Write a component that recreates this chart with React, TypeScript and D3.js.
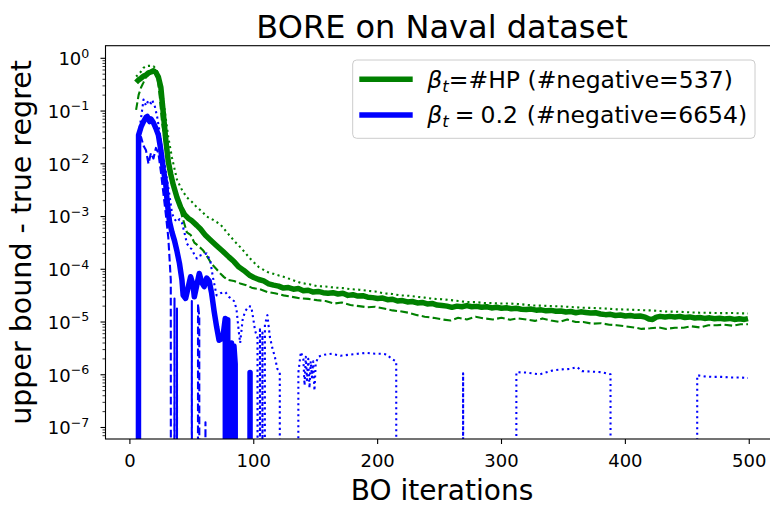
import React from "react";
import * as d3 from "d3";

// ---------- data (iteration, value); value <= 0 means non-positive (clipped on log axis) ----------
const greenMean: [number, number][] = [
  [5, 3.5e-1], [7, 3.9e-1], [9, 4.2e-1], [11, 4.6e-1], [13, 4.8e-1], [15, 5.3e-1], [17, 5.5e-1], [19, 5.8e-1],
  [21, 5.4e-1], [23, 4.4e-1], [25, 2.8e-1], [27, 8.9e-2], [29, 2.8e-2], [31, 1.1e-2], [33, 6.3e-3], [35, 4.0e-3],
  [38, 2.3e-3], [41, 1.5e-3], [44, 1.1e-3], [47, 9.3e-4], [50, 8.3e-4], [54, 6.8e-4], [57, 5.8e-4], [61, 4.4e-4],
  [65, 3.6e-4], [70, 2.8e-4], [75, 2.2e-4], [80, 1.7e-4], [84, 1.4e-4], [88, 1.1e-4], [92, 9.5e-5], [97, 7.6e-5],
  [100, 7.0e-5], [104, 6.4e-5], [108, 6.0e-5], [112, 5.3e-5], [116, 5.0e-5], [120, 4.8e-5], [124, 4.4e-5],
  [128, 4.5e-5], [132, 4.2e-5], [136, 4.3e-5], [140, 3.9e-5], [144, 4.0e-5], [148, 3.7e-5], [152, 3.8e-5],
  [156, 3.6e-5], [160, 3.5e-5], [164, 3.6e-5], [168, 3.4e-5], [172, 3.5e-5], [176, 3.2e-5], [180, 3.3e-5],
  [184, 3.1e-5], [188, 3.15e-5], [192, 2.95e-5], [196, 2.9e-5], [200, 2.8e-5], [204, 2.85e-5], [208, 2.65e-5],
  [212, 2.7e-5], [216, 2.5e-5], [220, 2.55e-5], [224, 2.4e-5], [228, 2.45e-5], [232, 2.3e-5], [236, 2.35e-5],
  [240, 2.2e-5], [244, 2.25e-5], [248, 2.1e-5], [252, 2.05e-5], [256, 2.0e-5], [260, 1.9e-5], [264, 2.0e-5],
  [268, 1.95e-5], [272, 2.05e-5], [276, 1.95e-5], [280, 1.98e-5], [284, 1.9e-5], [288, 1.95e-5], [292, 1.85e-5],
  [296, 1.9e-5], [300, 1.82e-5], [304, 1.86e-5], [308, 1.78e-5], [312, 1.82e-5], [316, 1.75e-5], [320, 1.72e-5],
  [324, 1.76e-5], [328, 1.68e-5], [332, 1.7e-5], [336, 1.63e-5], [340, 1.66e-5], [344, 1.6e-5], [348, 1.62e-5],
  [352, 1.55e-5], [356, 1.58e-5], [360, 1.5e-5], [364, 1.56e-5], [368, 1.52e-5], [372, 1.48e-5], [376, 1.5e-5],
  [380, 1.42e-5], [384, 1.38e-5], [388, 1.4e-5], [392, 1.33e-5], [396, 1.36e-5], [400, 1.3e-5], [404, 1.33e-5],
  [408, 1.28e-5], [412, 1.3e-5], [416, 1.24e-5], [419, 1.14e-5], [422, 1.12e-5], [425, 1.24e-5], [428, 1.28e-5],
  [432, 1.24e-5], [436, 1.28e-5], [440, 1.25e-5], [444, 1.28e-5], [448, 1.22e-5], [452, 1.25e-5], [456, 1.19e-5],
  [460, 1.22e-5], [464, 1.17e-5], [468, 1.2e-5], [472, 1.15e-5], [476, 1.18e-5], [480, 1.14e-5], [484, 1.17e-5],
  [488, 1.12e-5], [492, 1.15e-5], [496, 1.12e-5], [499, 1.16e-5],
];

const greenUpper: [number, number][] = [
  [5, 4.5e-1], [7, 5.0e-1], [9, 5.6e-1], [11, 6.6e-1], [13, 7.1e-1], [15, 7.2e-1], [17, 7.2e-1], [19, 7.1e-1],
  [21, 6.3e-1], [23, 5.0e-1], [25, 3.5e-1], [27, 1.6e-1], [29, 7.1e-2], [31, 3.2e-2], [34, 1.3e-2], [38, 5.0e-3],
  [42, 3.2e-3], [46, 2.3e-3], [50, 1.9e-3], [54, 1.5e-3], [58, 1.26e-3], [62, 1.0e-3], [67, 8.7e-4], [73, 7.1e-4],
  [79, 4.8e-4], [84, 3.5e-4], [90, 2.5e-4], [97, 1.6e-4], [104, 1.1e-4], [111, 8.9e-5], [118, 7.9e-5],
  [124, 7.2e-5], [131, 6.3e-5], [138, 5.5e-5], [145, 5.2e-5], [151, 4.8e-5], [158, 4.7e-5], [165, 4.5e-5],
  [172, 4.4e-5], [178, 4.2e-5], [185, 4.1e-5], [192, 3.9e-5], [198, 3.8e-5], [205, 3.5e-5], [212, 3.4e-5],
  [218, 3.2e-5], [225, 3.15e-5], [232, 3.0e-5], [238, 2.9e-5], [245, 2.75e-5], [252, 2.7e-5], [259, 2.6e-5],
  [265, 2.5e-5], [272, 2.4e-5], [279, 2.38e-5], [286, 2.3e-5], [293, 2.28e-5], [300, 2.24e-5], [306, 2.25e-5],
  [313, 2.2e-5], [320, 2.12e-5], [327, 2.05e-5], [333, 2.04e-5], [340, 2.0e-5], [347, 1.98e-5], [353, 1.95e-5],
  [360, 1.9e-5], [366, 1.86e-5], [373, 1.85e-5], [380, 1.82e-5], [387, 1.78e-5], [393, 1.74e-5], [400, 1.73e-5],
  [407, 1.7e-5], [413, 1.68e-5], [420, 1.66e-5], [427, 1.62e-5], [433, 1.58e-5], [440, 1.57e-5], [447, 1.55e-5],
  [453, 1.52e-5], [460, 1.5e-5], [467, 1.5e-5], [474, 1.48e-5], [480, 1.47e-5], [487, 1.48e-5], [493, 1.46e-5],
  [499, 1.45e-5],
];

const greenLower: [number, number][] = [
  [5, 1.05e-1], [7, 2.0e-1], [9, 2.8e-1], [11, 3.5e-1], [14, 5.0e-1], [17, 5.4e-1], [20, 5.6e-1], [22, 5.0e-1],
  [24, 2.0e-1], [26, 5.9e-2], [29, 2.0e-2], [33, 7.9e-3], [37, 2.8e-3], [41, 1.26e-3], [46, 5.0e-4], [49, 4.5e-4],
  [52, 3.2e-4], [55, 2.8e-4], [59, 2.3e-4], [63, 1.66e-4], [66, 1.26e-4], [70, 1.0e-4], [73, 8.3e-5], [76, 7.1e-5],
  [79, 6.3e-5], [84, 6.0e-5], [89, 5.4e-5], [94, 5.0e-5], [99, 4.4e-5], [105, 4.2e-5], [111, 3.7e-5],
  [117, 3.5e-5], [124, 3.2e-5], [131, 3.0e-5], [138, 2.8e-5], [144, 2.75e-5], [151, 2.6e-5], [158, 2.5e-5],
  [165, 2.24e-5], [171, 2.35e-5], [178, 2.1e-5], [185, 2.0e-5], [192, 1.9e-5], [198, 1.95e-5], [205, 1.8e-5],
  [212, 1.66e-5], [218, 1.6e-5], [225, 1.5e-5], [232, 1.35e-5], [238, 1.26e-5], [245, 1.2e-5], [252, 1.12e-5],
  [259, 1.07e-5], [265, 1.2e-5], [272, 1.12e-5], [279, 1.26e-5], [286, 1.17e-5], [293, 1.12e-5], [300, 1.2e-5],
  [307, 1.1e-5], [313, 1.17e-5], [320, 1.12e-5], [327, 1.05e-5], [333, 1.17e-5], [340, 1.07e-5], [347, 1.0e-5],
  [353, 1.12e-5], [360, 1.0e-5], [366, 1.0e-5], [373, 9.3e-6], [380, 9.5e-6], [387, 8.9e-6], [393, 8.7e-6],
  [400, 8.3e-6], [407, 7.9e-6], [413, 7.4e-6], [420, 7.6e-6], [427, 7.9e-6], [433, 7.4e-6], [440, 7.8e-6],
  [447, 7.8e-6], [453, 8.3e-6], [460, 7.9e-6], [467, 8.7e-6], [474, 8.7e-6], [480, 8.9e-6], [487, 8.5e-6],
  [493, 9.1e-6], [499, 9.1e-6],
];

const blueMean: [number, number][] = [
  [5, 0], [6, 0], [7, 3.5e-2], [9, 5.0e-2], [11, 6.3e-2], [13, 7.6e-2], [14, 7.9e-2], [16, 6.3e-2], [17, 7.1e-2],
  [19, 6.0e-2], [21, 4.7e-2], [23, 3.5e-2], [25, 1.8e-2], [27, 7.9e-3], [29, 4.0e-3], [30, 2.0e-3], [32, 7.9e-4],
  [34, 5.0e-4], [36, 3.5e-4], [38, 2.2e-4], [40, 1.3e-4], [42, 6.3e-5], [43, 3.2e-5], [45, 2.8e-5], [47, 4.5e-5],
  [49, 7.2e-5], [51, 5.0e-5], [52, 3.0e-5], [54, 5.0e-5], [56, 8.3e-5], [58, 5.6e-5], [60, 4.7e-5], [62, 6.8e-5],
  [64, 6.0e-5], [66, 3.5e-5], [68, 1.6e-5], [70, 8.1e-6], [72, 4.5e-6], [75, 5.0e-6], [77, 1.17e-5], [78, 0],
  [79, 1.1e-5], [80, 0], [82, 4.0e-6], [83, 0], [84, 3.5e-6], [85, 1.6e-6], [86, 0], [96, 0], [97, 1.1e-6],
  [98, 0],
];

const blueLower: [number, number][] = [
  [5, 0], [7, 2.0e-2], [9, 3.2e-2], [11, 2.2e-2], [13, 1.8e-2], [15, 1.0e-2], [17, 1.6e-2], [19, 1.26e-2],
  [21, 2.0e-2], [23, 1.6e-2], [25, 7.1e-3], [27, 2.8e-3], [29, 1.1e-3], [31, 4.0e-4], [33, 6.3e-5], [34, 0],
  [36, 2.8e-5], [37, 0], [38, 1.8e-5], [39, 0], [49, 0], [50, 2.5e-5], [51, 0], [54, 0], [55, 2.2e-5],
  [56, 1.26e-5], [57, 0], [60, 0], [61, 1.26e-7], [62, 0],
];

const blueUpper: [number, number][] = [
  [5, 0], [6, 1.2e-2], [8, 5.0e-2], [10, 1.1e-1], [11, 1.66e-1], [13, 1.26e-1], [15, 1.6e-1], [17, 1.4e-1],
  [18, 1.6e-1], [20, 1.26e-1], [22, 7.8e-2], [24, 4.0e-2], [26, 1.8e-2], [28, 1.0e-2], [30, 5.0e-3],
  [32, 2.5e-3], [34, 1.15e-3], [36, 8.9e-4], [38, 7.9e-4], [40, 8.9e-4], [42, 7.6e-4], [44, 5.0e-4],
  [46, 3.1e-4], [48, 2.6e-4], [50, 2.4e-4], [52, 1.9e-4], [54, 1.6e-4], [56, 1.8e-4], [59, 1.9e-4],
  [62, 2.0e-4], [65, 1.4e-4], [67, 7.1e-5], [70, 3.2e-5], [73, 3.5e-5], [77, 3.7e-5], [80, 3.0e-5],
  [84, 2.5e-5], [86, 1.8e-5], [88, 6.3e-6], [89, 4.0e-6], [91, 1.1e-5], [93, 1.6e-5], [96, 2.0e-5],
  [98, 1.95e-5], [100, 1.0e-5], [101, 6.9e-6], [103, 5.0e-6], [104, 0], [105, 7.9e-6], [106, 0],
  [107, 6.3e-6], [108, 0], [109, 8.9e-6], [111, 1.35e-5], [113, 5.2e-6], [115, 3.2e-6], [117, 2.2e-6],
  [119, 1.3e-6], [121, 1.1e-6], [122, 0], [135, 0], [136, 1.1e-6], [138, 2.7e-6], [140, 2.0e-6],
  [141, 6.3e-7], [142, 2.2e-6], [143, 7.9e-7], [144, 2.0e-6], [145, 5.6e-7], [146, 1.8e-6], [147, 8.9e-7],
  [148, 1.8e-6], [149, 5.0e-7], [150, 1.6e-6], [152, 2.2e-6], [157, 2.4e-6], [163, 2.5e-6], [170, 2.3e-6],
  [177, 2.4e-6], [184, 2.5e-6], [191, 2.6e-6], [198, 2.5e-6], [204, 2.5e-6], [208, 2.4e-6], [211, 2.0e-6],
  [215, 1.8e-6], [216, 0], [268, 0], [269, 1.07e-6], [270, 0], [311, 0], [312, 1.12e-6], [320, 1.1e-6],
  [331, 1.02e-6], [341, 1.2e-6], [348, 1.26e-6], [355, 1.29e-6], [361, 1.4e-6], [365, 1.17e-6],
  [372, 1.15e-6], [381, 1.12e-6], [388, 1.02e-6], [389, 0], [457, 0], [458, 9.8e-7], [464, 9.3e-7],
  [471, 9.1e-7], [478, 9.1e-7], [485, 8.9e-7], [492, 8.9e-7], [499, 8.7e-7],
];

const xTicks = [0, 100, 200, 300, 400, 500];
const yTickExponents = [0, -1, -2, -3, -4, -5, -6, -7];
const titleText = "BORE on Naval dataset";
const xLabelText = "BO iterations";
const yLabelText = "upper bound - true regret";

type Series = { data: [number, number][]; color: string; style: "solid" | "dashed" | "dotted" };
const seriesList: Series[] = [
  { data: greenMean, color: "green", style: "solid" },
  { data: greenLower, color: "green", style: "dashed" },
  { data: greenUpper, color: "green", style: "dotted" },
  { data: blueMean, color: "blue", style: "solid" },
  { data: blueLower, color: "blue", style: "dashed" },
  { data: blueUpper, color: "blue", style: "dotted" },
];

export default function App() {
  const W = 770, H = 509;
  const left = 105.5, right = 778.6, top = 45.7, bottom = 439;
  const FONT = "'DejaVu Sans', sans-serif";

  const x = d3.scaleLinear().domain([-19.7, 523.7]).range([left, right]);
  const y = d3.scaleLog().domain([Math.pow(10, -7.218), Math.pow(10, 0.239)]).range([bottom, top]);

  const line = d3
    .line<[number, number]>()
    .x((d) => x(d[0]))
    .y((d) => (d[1] > 0 ? y(d[1]) : bottom + 3000));

  const minorTicks: number[] = [];
  for (let e = -8; e <= 0; e++) {
    for (let k = 2; k <= 9; k++) {
      const v = k * Math.pow(10, e);
      const py = y(v);
      if (py >= top && py <= bottom) minorTicks.push(v);
    }
  }

  const styleFor = (s: Series) => {
    if (s.style === "solid") return { w: 5.5, dash: undefined as string | undefined };
    if (s.style === "dashed") return { w: 2.1, dash: "7.7 3.3" };
    return { w: 2.1, dash: "2.1 3.4" };
  };

  return (
    <svg
      width={W}
      height={H}
      viewBox={`0 0 ${W} ${H}`}
      style={{ position: "absolute", left: 0, top: 0, background: "white" }}
      fontFamily={FONT}
    >
      <defs>
        <clipPath id="plotClip">
          <rect x={left} y={top} width={right - left} height={bottom - top} />
        </clipPath>
      </defs>
      <rect x={0} y={0} width={W} height={H} fill="white" />

      <g clipPath="url(#plotClip)">
        {seriesList.map((s, i) => {
          const st = styleFor(s);
          return (
            <path
              key={i}
              d={line(s.data) || ""}
              fill="none"
              stroke={s.color}
              strokeWidth={st.w}
              strokeDasharray={st.dash}
              strokeLinejoin="round"
              strokeLinecap="butt"
            />
          );
        })}
      </g>

      {/* spines */}
      <rect x={left} y={top} width={right - left} height={bottom - top} fill="none" stroke="black" strokeWidth={1.1} />

      {/* x ticks */}
      {xTicks.map((t) => (
        <g key={t}>
          <line x1={x(t)} x2={x(t)} y1={bottom} y2={bottom + 5} stroke="black" strokeWidth={1.1} />
          <text x={x(t)} y={466.7} fontSize={18} textAnchor="middle" fill="black">
            {t}
          </text>
        </g>
      ))}

      {/* y minor ticks */}
      {minorTicks.map((v, i) => (
        <line key={i} x1={left - 3} x2={left} y1={y(v)} y2={y(v)} stroke="black" strokeWidth={0.8} />
      ))}
      {/* y major ticks */}
      {yTickExponents.map((e) => {
        const py = y(Math.pow(10, e));
        return (
          <g key={e}>
            <line x1={left - 5} x2={left} y1={py} y2={py} stroke="black" strokeWidth={1.1} />
            <text x={89.3} y={py + 6.9} fontSize={18} textAnchor="end" fill="black">
              <tspan>10</tspan>
              <tspan fontSize={12.6} dy={-7.6}>{e < 0 ? "\u2212" + Math.abs(e) : String(e)}</tspan>
            </text>
          </g>
        );
      })}

      {/* title and axis labels */}
      <text x={442} y={38.3} fontSize={32} textAnchor="middle" fill="black">
        {titleText}
      </text>
      <text x={442} y={500} fontSize={28} textAnchor="middle" fill="black">
        {xLabelText}
      </text>
      <text transform={`translate(31,242.4) rotate(-90)`} fontSize={28.5} textAnchor="middle" fill="black">
        {yLabelText}
      </text>

      {/* legend */}
      <g>
        <rect x={352.7} y={60} width={402.3} height={78.3} rx={4} fill="white" fillOpacity={0.8} stroke="#cccccc" strokeWidth={1} />
        <line x1={359.3} x2={412.7} y1={79.3} y2={79.3} stroke="green" strokeWidth={5.5} />
        <line x1={359.3} x2={412.7} y1={115} y2={115} stroke="blue" strokeWidth={5.5} />
        <text x={427.3} y={87.5} fontSize={23.5} fill="black">
          <tspan fontStyle="italic">β</tspan>
          <tspan fontStyle="italic" fontSize={16.5} dy={4.5}>t</tspan>
          <tspan dy={-4.5}>=#HP (#negative=537)</tspan>
        </text>
        <text x={427.3} y={122.9} fontSize={23.5} fill="black">
          <tspan fontStyle="italic">β</tspan>
          <tspan fontStyle="italic" fontSize={16.5} dy={4.5}>t</tspan>
          <tspan dy={-4.5} dx={6}>=</tspan>
          <tspan dx={6}>0.2</tspan>
          <tspan dx={9}>(#negative=6654)</tspan>
        </text>
      </g>
    </svg>
  );
}
